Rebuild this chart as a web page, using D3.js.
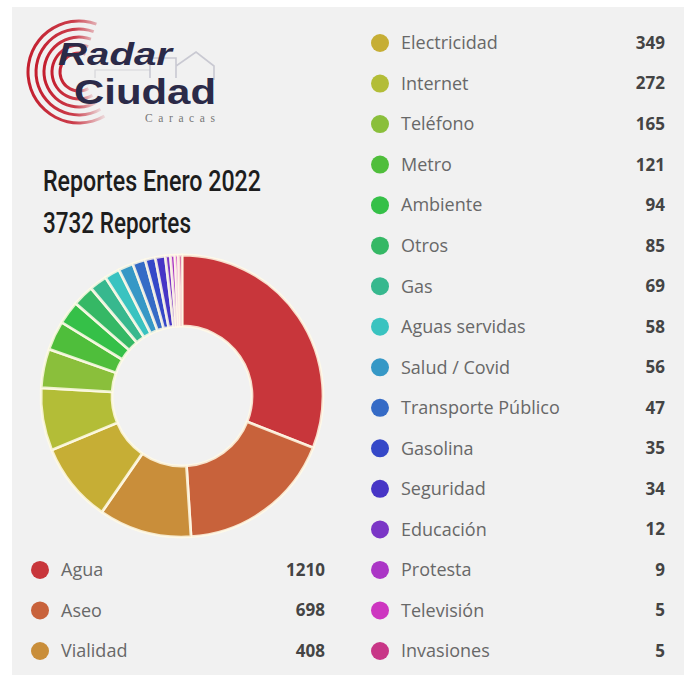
<!DOCTYPE html>
<html>
<head>
<meta charset="utf-8">
<script src="https://cdn.jsdelivr.net/npm/d3@7/dist/d3.min.js"></script>
<style>
  html, body { margin: 0; padding: 0; background: #ffffff; }
  svg { display: block; }
</style>
</head>
<body>
<svg id="chart" width="684" height="675"></svg>
<script>
// ---- DATA ----
const categories = ["Agua", "Aseo", "Vialidad", "Electricidad", "Internet", "Teléfono", "Metro",
  "Ambiente", "Otros", "Gas", "Aguas servidas", "Salud / Covid", "Transporte Público",
  "Gasolina", "Seguridad", "Educación", "Protesta", "Televisión", "Invasiones"];
const values = [1210, 698, 408, 349, 272, 165, 121, 94, 85, 69, 58, 56, 47, 35, 34, 12, 9, 5, 5];
const palette = ["#c8363b", "#c8623b", "#c98e3a", "#c6ae35", "#b3bd37", "#8abf3b", "#4fbe3b",
  "#35c048", "#35b865", "#37b88e", "#39c3c0", "#3698c6", "#356bc6", "#3548c8", "#4735c6",
  "#7b36c6", "#ab36c6", "#cd36c0", "#c83687"];
const titleLines = ["Reportes Enero 2022", "3732 Reportes"];
const logoWords = ["Radar", "Ciudad", "Caracas"];
const leftCount = 3; // first three entries in the left-hand legend

// ---- SETUP ----
const svg = d3.select("#chart");
const W = 684, H = 675;

svg.append("rect").attr("x", 12).attr("y", 7).attr("width", W - 12).attr("height", H - 7)
  .attr("fill", "#f1f1f1");

const color = d3.scaleOrdinal().domain(categories).range(palette);

// ---- LOGO ----
const logo = svg.append("g").attr("class", "logo");
const arcGen = d3.arc();
const ringRadii = [51, 43, 35, 27, 19];
const grad = svg.append("defs").append("linearGradient")
  .attr("id", "ringFade").attr("x1", "0").attr("x2", "1").attr("y1", "0").attr("y2", "0");
grad.append("stop").attr("offset", "0%").attr("stop-color", "#c41e2e").attr("stop-opacity", 1);
grad.append("stop").attr("offset", "60%").attr("stop-color", "#c41e2e").attr("stop-opacity", 0.85);
grad.append("stop").attr("offset", "100%").attr("stop-color", "#c41e2e").attr("stop-opacity", 0.1);
ringRadii.forEach((r) => {
  logo.append("path")
    .attr("transform", "translate(79,72)")
    .attr("d", arcGen({innerRadius: r - 1.5, outerRadius: r + 1.5,
      startAngle: 150 * Math.PI / 180, endAngle: 380 * Math.PI / 180}))
    .attr("fill", "url(#ringFade)");
});
// faint building outline
logo.append("path")
  .attr("d", "M150,78 L150,58 L176,58 L176,78 M176,78 L176,66 L196,52 L214,66 L214,80")
  .attr("fill", "none").attr("stroke", "#b8b8c4").attr("stroke-width", 1.6).attr("opacity", 0.7);
logo.append("path")
  .attr("d", "M95,78 L95,70 L150,70")
  .attr("fill", "none").attr("stroke", "#c4c4cc").attr("stroke-width", 1.2).attr("opacity", 0.6);
logo.append("text").attr("x", 58).attr("y", 65)
  .attr("font-family", "'Liberation Sans', Arial, sans-serif")
  .attr("font-weight", 700).attr("font-style", "italic")
  .attr("font-size", 32).attr("fill", "#2b2a48").attr("textLength", 114).attr("lengthAdjust", "spacingAndGlyphs")
  .text(logoWords[0]);
logo.append("text").attr("x", 74).attr("y", 104)
  .attr("font-family", "'Liberation Sans', Arial, sans-serif")
  .attr("font-weight", 700)
  .attr("font-size", 35).attr("fill", "#2b2a48").attr("textLength", 142).attr("lengthAdjust", "spacingAndGlyphs")
  .text(logoWords[1]);
logo.append("text").attr("x", 145).attr("y", 122)
  .attr("font-family", "'Liberation Serif', serif")
  .attr("font-size", 11.5).attr("fill", "#777").attr("textLength", 70).attr("lengthAdjust", "spacing")
  .text(logoWords[2]);

// ---- TITLE ----
svg.selectAll("text.title").data(titleLines).enter().append("text")
  .attr("class", "title")
  .attr("x", 43).attr("y", (d, i) => 191 + i * 42)
  .attr("font-family", "Roboto, 'Liberation Sans Narrow', sans-serif")
  .attr("font-weight", 500)
  .attr("font-size", 29).attr("fill", "#1d1d1d")
  .attr("textLength", (d, i) => i === 0 ? 218 : 148)
  .attr("lengthAdjust", "spacingAndGlyphs")
  .text(d => d);

// ---- DONUT ----
const cx = 182, cy = 396, outerR = 141, innerR = 70;
const pie = d3.pie().sort(null).value(d => d.value).padAngle(Math.PI / 180);
const data = categories.map((c, i) => ({name: c, value: values[i]}));
const arc = d3.arc().innerRadius(innerR).outerRadius(outerR).padAngle(0);
svg.append("g").attr("transform", `translate(${cx},${cy})`)
  .selectAll("path").data(pie(data)).enter().append("path")
  .attr("d", arc)
  .attr("fill", d => color(d.data.name))
  .attr("stroke", "rgba(255,250,232,0.85)")
  .attr("stroke-width", 2.8)
  .attr("stroke-linejoin", "round");

// ---- LEGENDS ----
const rightItems = data.slice(leftCount);
const rowY = d3.scalePoint().domain(d3.range(rightItems.length)).range([43, 651]);

function legend(g, items, rowIndex, dotX, labelX, valueX) {
  const rows = g.selectAll("g").data(items).enter().append("g")
    .attr("transform", (d, i) => `translate(0,${rowY(rowIndex(i))})`);
  rows.append("circle").attr("cx", dotX).attr("cy", 0).attr("r", 9)
    .attr("fill", d => color(d.name));
  rows.append("text").attr("x", labelX).attr("y", 0).attr("dy", "0.35em")
    .attr("font-family", "'Open Sans', sans-serif").attr("font-size", 18).attr("fill", "#686868")
    .text(d => d.name);
  rows.append("text").attr("x", valueX).attr("y", 0).attr("dy", "0.35em")
    .attr("text-anchor", "end")
    .attr("font-family", "'Open Sans', sans-serif").attr("font-weight", 700).attr("font-size", 17)
    .attr("fill", "#444")
    .text(d => d.value);
}
legend(svg.append("g"), rightItems, i => i, 380, 401, 665);
legend(svg.append("g"), data.slice(0, leftCount), i => rightItems.length - leftCount + i, 40, 61, 325);
</script>
</body>
</html>
